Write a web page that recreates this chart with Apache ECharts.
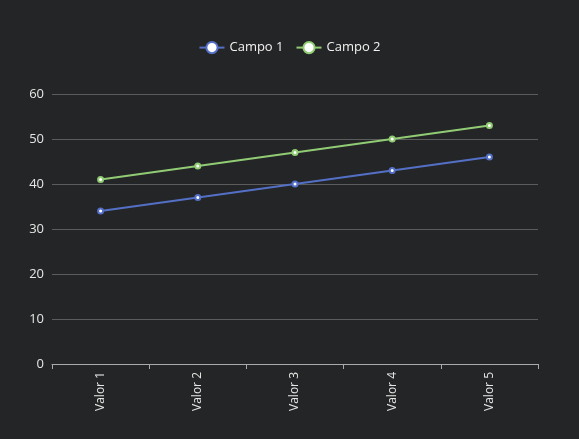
<!DOCTYPE html>
<html><head><meta charset="utf-8">
<script src="https://cdn.jsdelivr.net/npm/echarts@6/dist/echarts.min.js"></script>
<style>html,body{margin:0;padding:0;background:#242526;}#c{width:579px;height:439px;}</style>
</head><body><div id="c"></div>
<script>
const categories = ['Valor 1','Valor 2','Valor 3','Valor 4','Valor 5'];
const campo1 = [34,37,40,43,46];
const campo2 = [41,44,47,50,53];
const chart = echarts.init(document.getElementById('c'));
chart.setOption({
  backgroundColor:'#242526',
  animation:false,
  legend:{top:36,left:'center',itemWidth:25,itemHeight:14,itemGap:12,
    textStyle:{color:'#f2f2f2',fontSize:13,fontFamily:'Open Sans, sans-serif'}},
  grid:{left:52,right:41,top:94,bottom:75},
  xAxis:{type:'category',data:categories,boundaryGap:true,
    axisLine:{lineStyle:{color:'#aaaaaa'}},
    axisTick:{show:true,lineStyle:{color:'#aaaaaa'}},
    axisLabel:{rotate:90,color:'#e6e6e6',fontSize:12,margin:8,fontFamily:'Open Sans, sans-serif'}},
  yAxis:{type:'value',min:0,max:60,interval:10,
    axisLine:{show:false},axisTick:{show:false},
    axisLabel:{color:'#e6e6e6',fontSize:13,margin:8,fontFamily:'Open Sans, sans-serif'},
    splitLine:{lineStyle:{color:'#5c5c5c'}}},
  series:[
    {name:'Campo 1',type:'line',data:campo1,symbol:'circle',symbolSize:5,
      itemStyle:{color:'#ffffff',borderColor:'#5470c6',borderWidth:2},
      lineStyle:{color:'#5470c6',width:2}},
    {name:'Campo 2',type:'line',data:campo2,symbol:'circle',symbolSize:5,
      itemStyle:{color:'#ffffff',borderColor:'#91cc75',borderWidth:2},
      lineStyle:{color:'#91cc75',width:2}}
  ]
});
</script></body></html>
